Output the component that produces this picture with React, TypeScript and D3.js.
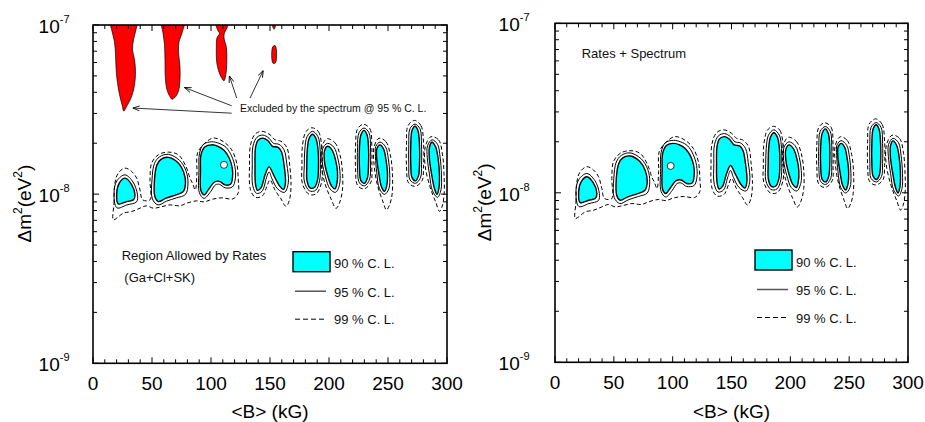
import React from "react";
import * as d3 from "d3";

type Pt = [number, number]; // [<B> in kG, Δm² in units of 1e-8 eV²]
const UNIT = 1e-8;

const xTickValues = [0, 50, 100, 150, 200, 250, 300];
const xTickLabels = ["0", "50", "100", "150", "200", "250", "300"];
const yTickValues = [1e-9, 1e-8, 1e-7];
const yTickExponents = ["-9", "-8", "-7"];
const legendLabels = ["90 % C. L.", "95 % C. L.", "99 % C. L."];

// 90 % C.L. allowed islands (filled)
const cl90: Pt[][] = [
  [[27.1,1.243],[32.8,1.135],[35.6,0.99],[34.2,0.925],[28.6,0.904],[21.4,0.876],[20.1,1.014],[22.3,1.162]],
  [[63.8,1.65],[72.3,1.526],[76.7,1.355],[78.4,1.162],[76.3,1.032],[70.3,0.99],[61.9,0.947],[55.3,0.904],[52.5,0.964],[52.1,1.215],[54.2,1.49],[57.6,1.607]],
  [[100.6,1.957],[105.9,1.918],[111,1.815],[115.3,1.64],[118,1.43],[118.2,1.249],[116.5,1.143],[111.9,1.135],[107.2,1.19],[103,1.18],[98.3,1.075],[94.1,0.99],[91.5,1.046],[91.1,1.392],[91.5,1.708],[94.9,1.906]],
  [[139.8,2.08],[144.1,2.145],[148.3,2.068],[152.1,1.918],[156.8,1.892],[159.7,1.78],[161.9,1.49],[163.1,1.166],[161.4,1.068],[158.1,1.12],[153.4,1.283],[149.2,1.45],[145.8,1.3],[142.4,1.09],[139.4,1.053],[137.7,1.151],[137.3,1.49],[137.7,1.88]],
  [[186.0,2.26],[189.0,2.125],[190.7,1.828],[191.1,1.49],[190.3,1.215],[187.7,1.097],[183.9,1.09],[181.4,1.198],[181.2,1.49],[181.6,1.828],[183.1,2.125]],
  [[198.7,1.918],[202.5,1.828],[205.5,1.596],[207.2,1.355],[206.8,1.166],[205.1,1.075],[202.1,1.12],[198.7,1.3],[196.2,1.553],[196.2,1.803]],
  [[229.7,2.383],[232.2,2.245],[233.5,1.88],[233.5,1.49],[232.6,1.249],[230.1,1.159],[227.1,1.198],[225.8,1.43],[225.8,1.88],[227.1,2.245]],
  [[243.2,1.957],[246.2,1.853],[248.3,1.596],[249.6,1.3],[248.7,1.104],[247,1.039],[244.5,1.104],[242,1.355],[240.3,1.662],[240.7,1.866]],
  [[272.9,2.519],[275.4,2.37],[276.7,1.957],[276.7,1.49],[275.8,1.283],[273.3,1.198],[270.3,1.257],[269.3,1.49],[269.3,1.957],[270.3,2.37]],
  [[287.3,2.025],[290.3,1.906],[292.4,1.64],[293.6,1.3],[293.2,1.09],[291.5,0.997],[289.4,1.075],[286.9,1.318],[285,1.64],[285.2,1.906]],
];

// 95 % C.L. contours (solid)
const cl95: Pt[][] = [
  [[27.1,1.3],[33.9,1.18],[37.7,0.99],[36.9,0.9],[28.8,0.864],[20.3,0.83],[17.8,1.018],[20.3,1.2]],
  [[63.8,1.72],[73.3,1.585],[78.8,1.374],[80.5,1.162],[78.4,0.997],[70.8,0.951],[62.3,0.909],[55.1,0.864],[50.3,0.938],[50,1.215],[52.1,1.52],[56.4,1.662]],
  [[100.6,2.04],[106.8,1.997],[112.7,1.892],[117.4,1.685],[120.3,1.45],[120.6,1.232],[118.2,1.104],[111.9,1.09],[107.2,1.143],[103.8,1.135],[99.6,1.032],[94.1,0.944],[90.2,1.018],[89.8,1.392],[90.2,1.732],[93.6,1.97]],
  [[139,2.17],[144.1,2.235],[149.2,2.14],[153,1.997],[157.6,1.97],[161.9,1.828],[164.2,1.51],[165.5,1.166],[162.3,1.025],[156.4,1.075],[151.7,1.232],[149.2,1.355],[147,1.249],[143.2,1.039],[138.6,1.011],[135.4,1.12],[135,1.49],[135.6,1.93]],
  [[186,2.353],[190.7,2.184],[192.5,1.828],[192.7,1.49],[192,1.198],[188.6,1.053],[183.5,1.046],[179.2,1.18],[179.1,1.49],[179.5,1.828],[181.4,2.184]],
  [[198.7,1.997],[204.2,1.892],[207.6,1.618],[209.3,1.355],[208.9,1.135],[205.5,1.025],[200.8,1.075],[197,1.266],[194.3,1.553],[194.6,1.853]],
  [[229.7,2.459],[233.9,2.306],[235.2,1.88],[235.2,1.49],[234.3,1.215],[230.1,1.12],[225.8,1.166],[224.2,1.43],[224.2,1.88],[225.4,2.306]],
  [[243.2,2.031],[247.9,1.906],[250.3,1.618],[251.5,1.3],[250.7,1.075],[247,0.997],[242.8,1.075],[240.5,1.337],[239.4,1.662],[239.7,1.918]],
  [[272.9,2.595],[277.1,2.433],[278.4,1.957],[278.4,1.49],[277.5,1.249],[273.3,1.159],[268.6,1.215],[267.6,1.49],[267.6,1.957],[268.6,2.433]],
  [[287.3,2.096],[292,1.97],[294.1,1.662],[295.3,1.3],[294.9,1.06],[292,0.957],[287.7,1.046],[285.2,1.3],[283.3,1.64],[283.5,1.93]],
];

// 99 % C.L. contours (dashed); the first one joins the three low-field islands
const cl99: Pt[][] = [
  [[17.2,0.705],[17.8,0.884],[18.6,1.162],[21.4,1.331],[27.1,1.425],[32.8,1.361],[37.0,1.243],[39.8,1.06],[42.1,0.925],[48.3,0.925],[48.3,1.215],[49.7,1.526],[55.3,1.708],[63.8,1.772],[72.3,1.708],[78.8,1.457],[82.2,1.243],[84.3,1.16],[86.7,1.06],[88.1,1.331],[88.6,1.749],[94.9,2.003],[101.9,2.145],[110.4,2.047],[117.5,1.828],[121.8,1.526],[123.1,1.215],[123.1,1.018],[118.6,0.938],[109.3,0.951],[100.8,0.932],[94.1,0.9],[87.9,0.913],[79.4,0.884],[73.7,0.853],[65.3,0.864],[56.8,0.838],[51.1,0.826],[45.5,0.853],[39.8,0.826],[32.8,0.789],[25.7,0.772],[20.1,0.721]],
  [[137.3,2.26],[143.2,2.353],[150,2.245],[154.2,2.096],[159.3,2.053],[164.4,1.88],[166.5,1.53],[167.8,1.135],[166.5,0.925],[163.6,0.847],[159.3,0.938],[154.2,1.06],[150,1.215],[147.5,1.12],[143.6,0.977],[137.7,0.957],[133.5,1.06],[132.6,1.49],[133.5,1.957]],
  [[185.6,2.468],[191.1,2.34],[193.9,1.88],[194.2,1.49],[193.6,1.166],[189.0,1.004],[183.1,0.997],[177.5,1.151],[177.1,1.49],[177.5,1.93],[180.5,2.34]],
  [[198.3,2.125],[205.1,2.011],[209.3,1.708],[211.4,1.355],[211.4,1.06],[208.9,0.888],[205.9,0.824],[202.1,0.925],[196.4,1.166],[193.4,1.53],[194.0,1.906]],
  [[229.2,2.588],[234.7,2.433],[236.3,1.906],[236.3,1.45],[235.6,1.18],[229.7,1.075],[224.2,1.127],[222.5,1.43],[222.5,1.906],[224.2,2.433]],
  [[242.4,2.14],[248.3,2.04],[252.1,1.685],[253.8,1.3],[253.4,0.99],[251.3,0.864],[248.7,0.807],[245.8,0.9],[241,1.135],[238.2,1.49],[238.2,1.906]],
  [[272.5,2.73],[278,2.535],[280.1,2.011],[280.1,1.45],[278.8,1.198],[272.9,1.112],[267.4,1.166],[265.7,1.45],[265.7,2.011],[266.9,2.535]],
  [[286.4,2.184],[292.8,2.096],[296.2,1.708],[297.5,1.3],[297.5,0.99],[295.8,0.841],[293.6,0.791],[290.7,0.888],[285.6,1.104],[281.4,1.49],[281.8,1.93]],
];

// regions excluded by the spectrum @ 95 % C.L. (left panel only)
const excludedBySpectrum: Pt[][] = [
  [[14.0,11],[15.8,9.37],[18.2,7.96],[19.1,6.67],[19.5,5.66],[20.3,4.81],[22.5,3.87],[24.6,3.38],[26.1,3.1],[28.8,3.33],[32.6,3.76],[35.2,4.43],[36.0,5.3],[35.2,6.23],[33.5,7.14],[34.3,8.18],[36.4,9.37],[37.5,11]],
  [[58.1,11],[59.3,8.99],[60.6,7.66],[61.0,6.23],[61.3,4.88],[62.7,4.14],[65.3,3.76],[66.9,3.64],[69.9,3.76],[72.5,4.08],[73.7,4.74],[73.7,5.66],[72.5,6.95],[72.9,7.96],[75.8,9.13],[77.5,11]],
  [[103.8,11],[105.5,9.37],[107.2,8.9],[105.1,8.42],[104.5,7.14],[104.8,6.06],[106.4,5.37],[108.9,4.88],[111.0,4.68],[112.7,5.16],[113.4,6.06],[113.1,7.33],[111.0,8.42],[111.4,8.99],[113.6,9.64],[114.8,11]],
  [[151.3,11],[155.5,11],[153.4,9.44]],
  [[152.3,7.43],[154.5,7.54],[154.7,5.98],[152.5,5.94]],
];

// annotation arrows: [from, to]
const excludedArrows: [Pt, Pt][] = [
  [[117.5, 3.01], [33.6, 3.23]],
  [[117.5, 3.33], [77.4, 4.27]],
  [[121.8, 3.7], [115.5, 5.01]],
  [[133.1, 3.7], [144.3, 5.39]],
];

const holeRates: Pt = [111, 1.49];
const holeRatesSpectrum: Pt = [98.3, 1.44];

const FONT = "'Liberation Sans', Arial, Helvetica, sans-serif";

type PanelCfg = {
  id: string;
  left: number;
  right: number;
  top: number;
  bottom: number;
  yLabelEnd: number;
  yTitleX: number;
  hole: Pt;
  excluded: boolean;
};

const panels: PanelCfg[] = [
  { id: "L", left: 93, right: 447, top: 25, bottom: 363.3, yLabelEnd: 69.5, yTitleX: 31, hole: holeRates, excluded: true },
  { id: "R", left: 555, right: 908, top: 23.3, bottom: 362.3, yLabelEnd: 529.5, yTitleX: 491, hole: holeRatesSpectrum, excluded: false },
];

function Panel({ cfg }: { cfg: PanelCfg }) {
  const x = d3.scaleLinear().domain([0, 300]).range([cfg.left, cfg.right]);
  const y = d3.scaleLog().domain([1e-9, 1e-7]).range([cfg.bottom, cfg.top]);
  const path = d3
    .line<Pt>()
    .x((d) => x(d[0]))
    .y((d) => y(d[1] * UNIT))
    .curve(d3.curveCatmullRomClosed.alpha(0.5));
  const clipId = "clip" + cfg.id;
  const xMinor = d3.range(0, 301, 10);
  const yMinor: number[] = [];
  [1e-9, 1e-8].forEach((dec) => [2, 3, 4, 5, 6, 7, 8, 9].forEach((k) => yMinor.push(k * dec)));
  const midX = (cfg.left + cfg.right) / 2;
  const midY = (cfg.top + cfg.bottom) / 2;
  const lgX = cfg.left + 200;
  const lgY = cfg.top + 226.7;

  return (
    <g>
      <defs>
        <clipPath id={clipId}>
          <rect x={cfg.left} y={cfg.top} width={cfg.right - cfg.left} height={cfg.bottom - cfg.top} />
        </clipPath>
      </defs>
      <g clipPath={`url(#${clipId})`}>
        {cfg.excluded &&
          excludedBySpectrum.map((r, i) => (
            <path key={"ex" + i} d={path(r) || ""} fill="#ff0000" stroke="#000" strokeWidth={0.7} />
          ))}
        {cl99.map((c, i) => (
          <path key={"c99" + i} d={path(c) || ""} fill="none" stroke="#000" strokeWidth={1} strokeDasharray="4,2.5" />
        ))}
        {cl95.map((c, i) => (
          <path key={"c95" + i} d={path(c) || ""} fill="none" stroke="#000" strokeWidth={1} />
        ))}
        {cl90.map((c, i) => (
          <path key={"c90" + i} d={path(c) || ""} fill="#00ffff" stroke="#000" strokeWidth={1.4} />
        ))}
        <circle cx={x(cfg.hole[0])} cy={y(cfg.hole[1] * UNIT)} r={3.5} fill="#fff" stroke="#000" strokeWidth={0.8} />
      </g>

      {cfg.excluded && (
        <g>
          {excludedArrows.map((a, i) => (
            <line
              key={"ar" + i}
              x1={x(a[0][0])}
              y1={y(a[0][1] * UNIT)}
              x2={x(a[1][0])}
              y2={y(a[1][1] * UNIT)}
              stroke="#000"
              strokeWidth={0.8}
              markerEnd="url(#arrowhead)"
            />
          ))}
          <text x={cfg.left + 147} y={cfg.top + 87} fontSize={10.5} fontFamily={FONT} fill="#111">
            Excluded by the spectrum @ 95 % C. L.
          </text>
          <text x={cfg.left + 28.7} y={cfg.top + 235} fontSize={13} fontFamily={FONT} fill="#111">
            Region Allowed by Rates
          </text>
          <text x={cfg.left + 31.3} y={cfg.top + 257} fontSize={13} fontFamily={FONT} fill="#111">
            (Ga+Cl+SK)
          </text>
        </g>
      )}
      {!cfg.excluded && (
        <text x={cfg.left + 26.7} y={cfg.top + 34.7} fontSize={13} fontFamily={FONT} fill="#111">
          Rates + Spectrum
        </text>
      )}

      {/* legend */}
      <rect x={lgX} y={lgY} width={37} height={20} fill="#00ffff" stroke="#000" strokeWidth={1.4} />
      <line x1={lgX + 2} x2={lgX + 33} y1={lgY + 39.5} y2={lgY + 39.5} stroke="#555" strokeWidth={1.5} />
      <line x1={lgX + 2} x2={lgX + 33} y1={lgY + 67.5} y2={lgY + 67.5} stroke="#000" strokeWidth={1} strokeDasharray="5,3" />
      {legendLabels.map((t, i) => (
        <text key={t} x={lgX + 41} y={lgY + [16.5, 45, 72.5][i]} fontSize={13} fontFamily={FONT} fill="#111">
          {t}
        </text>
      ))}

      {/* ticks */}
      {xMinor.map((v) => {
        const len = v % 50 === 0 ? 6 : 4;
        return (
          <g key={"xt" + v}>
            <line x1={x(v)} x2={x(v)} y1={cfg.bottom} y2={cfg.bottom - len} stroke="#000" strokeWidth={1} />
            <line x1={x(v)} x2={x(v)} y1={cfg.top} y2={cfg.top + len} stroke="#000" strokeWidth={1} />
          </g>
        );
      })}
      {yTickValues.map((v) => (
        <g key={"yM" + v}>
          <line x1={cfg.left} x2={cfg.left + 6} y1={y(v)} y2={y(v)} stroke="#000" strokeWidth={1} />
          <line x1={cfg.right} x2={cfg.right - 6} y1={y(v)} y2={y(v)} stroke="#000" strokeWidth={1} />
        </g>
      ))}
      {yMinor.map((v) => (
        <g key={"ym" + v}>
          <line x1={cfg.left} x2={cfg.left + 4} y1={y(v)} y2={y(v)} stroke="#000" strokeWidth={1} />
          <line x1={cfg.right} x2={cfg.right - 4} y1={y(v)} y2={y(v)} stroke="#000" strokeWidth={1} />
        </g>
      ))}

      <rect x={cfg.left} y={cfg.top} width={cfg.right - cfg.left} height={cfg.bottom - cfg.top} fill="none" stroke="#000" strokeWidth={1.6} />

      {/* tick labels */}
      {xTickValues.map((v, i) => (
        <text key={"xl" + v} x={x(v)} y={cfg.bottom + 26.5} textAnchor="middle" fontSize={19} fontFamily={FONT} fill="#000">
          {xTickLabels[i]}
        </text>
      ))}
      {yTickValues.map((v, i) => (
        <text key={"yl" + v} x={cfg.yLabelEnd} y={y(v) + 8} textAnchor="end" fontSize={19} fontFamily={FONT} fill="#000">
          10
          <tspan fontSize={11} dy={-10}>
            {yTickExponents[i]}
          </tspan>
        </text>
      ))}

      {/* axis titles */}
      <text x={midX} y={418} textAnchor="middle" fontSize={19} fontFamily={FONT} fill="#000">
        {"<B> (kG)"}
      </text>
      <text
        transform={`translate(${cfg.yTitleX},${midY + 9.5}) rotate(-90)`}
        textAnchor="middle"
        fontSize={19}
        fontFamily={FONT}
        fill="#000"
      >
        Δm
        <tspan fontSize={12} dy={-9}>2</tspan>
        <tspan dy={9}>(eV</tspan>
        <tspan fontSize={12} dy={-9}>2</tspan>
        <tspan dy={9}>)</tspan>
      </text>
    </g>
  );
}

export default function App() {
  return (
    <svg
      width={925}
      height={422}
      viewBox="0 0 925 422"
      style={{ position: "absolute", left: 0, top: 0, background: "#fff" }}
    >
      <defs>
        <marker
          id="arrowhead"
          viewBox="0 0 10 10"
          refX={10}
          refY={5}
          markerWidth={7}
          markerHeight={7}
          markerUnits="userSpaceOnUse"
          orient="auto"
        >
          <path d="M0,1.5 L10,5 L0,8.5" fill="none" stroke="#000" strokeWidth={1.2} />
        </marker>
      </defs>
      <rect x={0} y={0} width={925} height={422} fill="#fff" />
      {panels.map((p) => (
        <Panel key={p.id} cfg={p} />
      ))}
    </svg>
  );
}
